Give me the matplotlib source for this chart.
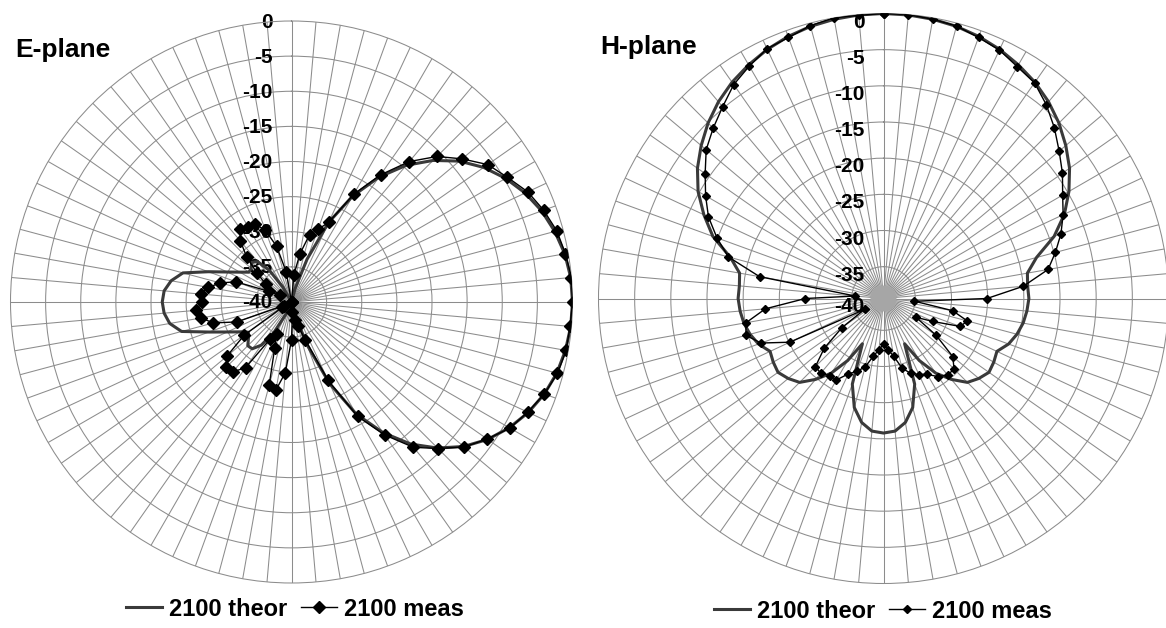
import numpy as np
import matplotlib
matplotlib.use("Agg")
import matplotlib.pyplot as plt
from matplotlib.patches import Circle
from matplotlib.transforms import offset_copy
from matplotlib.font_manager import FontProperties

plt.rcParams['font.family'] = ['Liberation Sans', 'DejaVu Sans']

# categories: one spoke every 5 degrees, clockwise from the top
angles = np.arange(0, 360, 5)
ring_labels = [0, -5, -10, -15, -20, -25, -30, -35, -40]

e_theor = [-40, -40, -40, -38, -33.5, -27.5, -22.6, -18.3, -14.6, -11.5,
           -8.8, -6.6, -4.8, -3.3, -2.1, -1.2, -0.5, -0.1, 0.0, -0.1,
           -0.4, -0.9, -1.7, -2.8, -4.2, -5.9, -8.0, -10.6, -13.6, -17.3,
           -21.6, -27.2, -33.5, -38, -40, -40, -40, -40, -40, -40,
           -40, -38, -35, -32.5, -31.3, -31.2, -32.0, -32.5, -31.5, -29.9,
           -27.5, -23.8, -22.4, -21.8, -21.6, -21.8, -22.6, -24.0, -27.4, -29.9,
           -31.5, -32.6, -32.5, -32.0, -32.5, -34.5, -37.5, -40, -40, -40,
           -40, -40]
e_meas = [-40, -36.1, -33.0, -30.1, -29.0, -27.5, -22.3, -17.9, -13.9, -10.7,
          -8.3, -5.9, -4.5, -2.9, -1.8, -0.9, -0.4, 0.0, 0.0, -0.2,
          -0.3, -0.8, -1.7, -2.9, -4.1, -6.0, -7.9, -10.5, -13.0, -16.9,
          -21.2, -27.7, -34.3, -36.5, -37.4, -38.5, -34.6, -29.9, -27.3, -27.7,
          -33.0, -35.0, -33.9, -28.6, -27.0, -26.9, -28.0, -31.8, -38.5, -38.8,
          -31.7, -28.5, -26.9, -26.3, -27.3, -27.0, -28.0, -29.5, -31.6, -36.4,
          -38.1, -35.5, -33.6, -31.0, -28.7, -27.3, -27.6, -27.8, -29.1, -31.8,
          -35.6, -40]

h_theor = [0.0, -0.05, -0.2, -0.45, -0.85, -1.4, -2.1, -2.9, -3.9, -5.1,
           -6.5, -8.0, -9.8, -11.8, -14.3, -17.5, -19.2, -19.4, -19.3, -19.5,
           -19.8, -20.3, -21.0, -22.1, -21.8, -21.6, -22.2, -23.0, -24.8, -26.8,
           -29.5, -32.5, -26.8, -23.8, -22.0, -21.0, -20.8, -21.0, -22.0, -23.8,
           -26.8, -32.5, -29.5, -26.8, -24.8, -23.0, -22.2, -21.6, -21.8, -22.1,
           -21.0, -20.3, -19.8, -19.5, -19.3, -19.4, -19.2, -17.5, -14.3, -12.0,
           -9.8, -8.0, -6.5, -5.1, -3.9, -2.9, -2.1, -1.4, -0.85, -0.45,
           -0.2, -0.05]
h_meas = [0.0, 0.0, -0.2, -0.4, -1.0, -1.5, -2.4, -3.0, -4.4, -6.0,
          -7.7, -9.2, -10.8, -12.0, -13.3, -14.8, -16.3, -20.0, -25.1, -35.1,
          -29.7, -27.4, -28.1, -31.9, -34.2, -30.5, -26.9, -25.6, -25.6, -26.2,
          -27.3, -27.8, -28.4, -29.4, -31.3, -32.3, -33.1, -32.3, -31.3, -29.6,
          -28.7, -27.9, -26.4, -26.4, -25.9, -26.1, -28.7, -32.4, -36.4, -25.1,
          -21.4, -19.7, -20.1, -23.0, -28.6, -35.5, -22.0, -17.2, -14.9, -12.7,
          -11.0, -9.3, -7.4, -6.1, -4.8, -3.3, -2.3, -1.3, -1.0, -0.35,
          0.0, -0.1]

W, H = 1166, 628
fig = plt.figure(figsize=(W / 100, H / 100), dpi=100, facecolor="white")

grid_col = "#8c8c8c"
bold = FontProperties(family="Liberation Sans", weight="bold", size=17)


def closed(vals):
    th = np.deg2rad(np.append(angles, 360))
    return th, np.append(vals, vals[0])


def radar(cx, cy, rad, rmin, theor, meas, title, tx, ty, msize, label_dy, blob):
    ax = fig.add_axes([(cx - rad) / W, 1 - (cy + rad) / H, 2 * rad / W, 2 * rad / H],
                      projection="polar")
    ax.set_theta_zero_location("N")
    ax.set_theta_direction(-1)
    ax.set_ylim(rmin, 0)
    ax.set_thetagrids(angles, labels=[])
    ax.set_rgrids([-35, -30, -25, -20, -15, -10, -5], labels=[])
    ax.grid(True, color=grid_col, lw=0.75)
    ax.spines["polar"].set_color(grid_col)
    ax.spines["polar"].set_linewidth(0.75)
    ax.set_axisbelow(True)
    ax.tick_params(length=0)

    if blob:
        ax.add_patch(Circle((0.5, 0.5), blob / (2 * rad), transform=ax.transAxes,
                            facecolor="#a6a6a6", edgecolor="none", zorder=1))

    th, r = closed(theor)
    l1, = ax.plot(th, r, color="#3a3a3a", lw=2.2, zorder=3, label="2100 theor")
    th, r = closed(meas)
    l2, = ax.plot(th, r, color="black", lw=1.0, marker="D", markersize=msize,
                  markerfacecolor="black", markeredgecolor="black", zorder=4,
                  label="2100 meas")

    trans = offset_copy(ax.transData, fig=fig, x=-19, y=label_dy, units="dots")
    for v in ring_labels:
        ax.text(0, max(v, rmin), str(v), transform=trans, ha="right", va="center",
                fontsize=15, fontweight="bold", color="black", zorder=2)

    fig.text(tx / W, 1 - ty / H, title, fontsize=19, fontweight="bold",
             ha="left", va="center")
    return ax, l1, l2


ax1, a1, b1 = radar(291.5, 302, 281, -40, e_theor, e_meas, "E-plane", 15, 50, 6.0, -1, 0)
ax2, a2, b2 = radar(883.5, 298.5, 285, -39.4, h_theor, h_meas, "H-plane", 600, 47, 4.5, -8.5, 13)

fig.legend(handles=[a1, b1], loc="center", bbox_to_anchor=(295 / W, 1 - 609 / H),
           ncol=2, frameon=False, prop=bold, handlelength=1.5, handletextpad=0.3,
           columnspacing=0.6, borderpad=0)
fig.legend(handles=[a2, b2], loc="center", bbox_to_anchor=(883 / W, 1 - 611 / H),
           ncol=2, frameon=False, prop=bold, handlelength=1.5, handletextpad=0.3,
           columnspacing=0.6, borderpad=0)

fig.savefig("out.png", dpi=100, facecolor="white")
